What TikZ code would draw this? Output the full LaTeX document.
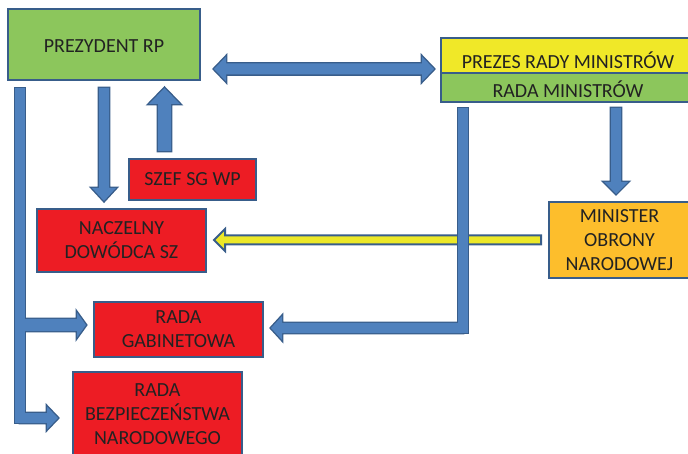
\documentclass[tikz,border=0pt]{standalone}
\usepackage{fontspec}
\setmainfont{Carlito}
\usetikzlibrary{calc}
\definecolor{boxborder}{RGB}{56,93,138}
\definecolor{arrowfill}{RGB}{79,129,189}
\definecolor{arrowborder}{RGB}{56,93,138}
\definecolor{boxgreen}{RGB}{140,198,92}
\definecolor{boxred}{RGB}{237,28,36}
\definecolor{boxyellow}{RGB}{240,232,40}
\definecolor{boxorange}{RGB}{253,190,44}
\definecolor{txt}{RGB}{34,34,34}
\definecolor{arrowyellow}{RGB}{236,232,40}

% #1 from, #2 to
\newcommand\bageom[2]{%
  \path let \p1=#1, \p2=#2 in \pgfextra{%
    \pgfmathsetmacro\balen{veclen(\x2-\x1,\y2-\y1)}%
    \pgfmathsetmacro\baang{atan2(\y2-\y1,\x2-\x1)}%
    \global\let\balen\balen \global\let\baang\baang};%
}
% #1 style, #2 from, #3 to, #4 half shaft, #5 half head, #6 head length
\newcommand\blockarrow[6]{%
  \bageom{#2}{#3}%
  \path[#1,shift={#2},rotate=\baang] (0pt,-#4) -- ({\balen pt-#6},-#4) -- ({\balen pt-#6},-#5) -- (\balen pt,0pt) -- ({\balen pt-#6},#5) -- ({\balen pt-#6},#4) -- (0pt,#4) -- cycle;%
}
% #1 style, #2 from, #3 to, #4 half width
\newcommand\blockbar[4]{%
  \bageom{#2}{#3}%
  \path[#1,shift={#2},rotate=\baang] (0pt,-#4) -- (\balen pt,-#4) -- (\balen pt,#4) -- (0pt,#4) -- cycle;%
}
\newcommand\bluearrows[1]{%
  \blockbar{#1}{(tA)}{(tB)}{5pt}%
  \blockarrow{#1}{(b2s)}{(b2e)}{5pt}{11.5pt}{11pt}%
  \blockarrow{#1}{(b1s)}{(b1e)}{6pt}{12.5pt}{9pt}%
  \blockarrow{#1}{(d1s)}{(d1e)}{5pt}{12pt}{13pt}%
  \blockarrow{#1}{(u1s)}{(u1e)}{6.5pt}{15.5pt}{16pt}%
  \blockarrow{#1}{(dm)}{(da)}{5.5pt}{12.5pt}{12pt}%
  \blockarrow{#1}{(dm)}{(db)}{5.5pt}{12.5pt}{12pt}%
  \blockarrow{#1}{(r1s)}{(r1e)}{5pt}{12pt}{12pt}%
  \blockbar{#1}{(r2s)}{(r2b)}{5pt}%
  \blockarrow{#1}{(r2c)}{(r2e)}{5pt}{12pt}{11pt}%
}

\begin{document}
\begin{tikzpicture}[x=1pt,y=-1pt,
  orgbox/.style={draw=boxborder,line width=2pt,text=txt,align=center,inner sep=0pt,
    font=\fontsize{20}{24}\selectfont}]
\useasboundingbox (0,0) rectangle (688,454);

\node[orgbox,fill=boxgreen,minimum width=192pt,minimum height=71pt,text height=17pt,text depth=0pt] (prez) at (104,44.5) {PREZYDENT RP};
\node[orgbox,fill=boxyellow,minimum width=254pt,minimum height=35pt,text height=25.5pt,text depth=0pt] (prm) at (568,55.5) {PREZES RADY MINISTRÓW};
\node[orgbox,fill=boxgreen,minimum width=254pt,minimum height=29pt,text height=19.5pt,text depth=0pt] (rm) at (568,87.5) {RADA MINISTRÓW};
\node[orgbox,fill=boxred,minimum width=127pt,minimum height=41pt] (szef) at (192.5,179.5) {SZEF SG WP};
\node[orgbox,fill=boxred,minimum width=169pt,minimum height=63pt] (ndsz) at (121.5,240.5) {NACZELNY\\DOWÓDCA SZ};
\node[orgbox,fill=boxorange,minimum width=141pt,minimum height=76pt] (mon) at (619.5,240) {MINISTER\\OBRONY\\NARODOWEJ};
\node[orgbox,fill=boxred,minimum width=169pt,minimum height=55pt] (rg) at (178.5,329.5) {RADA\\GABINETOWA};
\node[orgbox,fill=boxred,minimum width=169pt,minimum height=85pt] (rbn) at (157.5,414.5) {RADA\\BEZPIECZEŃSTWA\\NARODOWEGO};

% connector geometry
\coordinate (tA) at ($(prez.south west)+(13,7)$);
\coordinate (tB) at ($(tA |- rbn.west)+(0,8.5)$);
\coordinate (b2s) at ($(tA |- rbn.west)+(0,3.5)$);
\coordinate (b2e) at ($(rbn.west)+(-14,3.5)$);
\coordinate (b1s) at ($(tA |- rg.west)+(0,-4.5)$);
\coordinate (b1e) at ($(rg.west)+(-7,-4.5)$);
\coordinate (d1s) at ($(prez.south)+(0,7)$);
\coordinate (d1e) at ($(prez.south |- ndsz.north)+(0,-7)$);
\coordinate (u1s) at ($(szef.north west)+(36.5,-7)$);
\coordinate (u1e) at ($(u1s |- prez.south)+(0,7)$);
\coordinate (da) at ($(prez.east)+(13,24.5)$);
\coordinate (db) at ($(prm.west)+(-6,13.5)$);
\coordinate (dm) at ($(da)!0.5!(db)$);
\coordinate (r1s) at ($(rm.south)+(48,5)$);
\coordinate (r1e) at ($(r1s |- mon.north)+(0,-7)$);
\coordinate (r2s) at ($(rm.south west)+(23,5)$);
\coordinate (r2e) at ($(rg.east)+(7,-1.5)$);
\coordinate (r2c) at (r2s |- r2e);
\coordinate (r2b) at ($(r2c)+(0,5)$);
\coordinate (ys) at ($(mon.west)+(-7,0)$);
\coordinate (ye) at ($(ndsz.east |- ys)+(7,0)$);

% yellow arrow (under the blue bar)
\blockarrow{draw=arrowborder,line width=2pt,fill=arrowyellow,line join=miter}{(ys)}{(ye)}{4.5pt}{11pt}{11pt}

% blue block arrows: outline pass, then fill pass
\bluearrows{draw=arrowborder,line width=2.8pt,line join=miter}
\bluearrows{fill=arrowfill}
\end{tikzpicture}
\end{document}
